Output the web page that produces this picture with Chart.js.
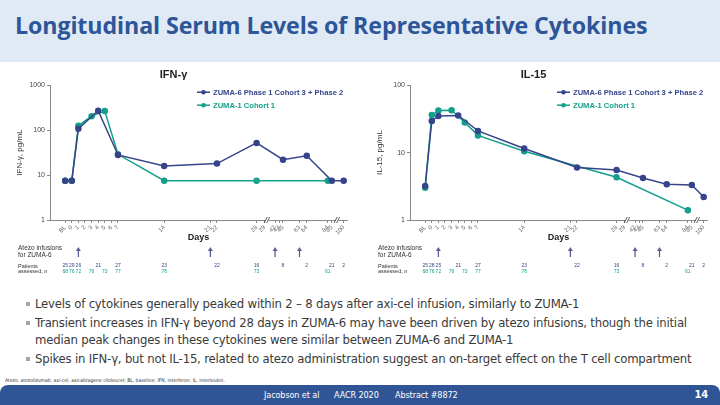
<!DOCTYPE html>
<html>
<head>
<meta charset="utf-8">
<script src="https://cdn.jsdelivr.net/npm/chart.js@4.4.1/dist/chart.umd.min.js"></script>
<style>
  html, body { margin: 0; padding: 0; }
  body { width: 720px; height: 405px; position: relative; overflow: hidden; background: #fff; font-family: "Liberation Sans", Arial, sans-serif; }
  .title-bar { position: absolute; left: 0; top: 0; width: 720px; height: 62px; background: #dfeaf5; }
  .title-bar h1 { margin: 0; position: absolute; left: 15px; top: 9px; font: 700 23.2px "Open Sans", sans-serif; color: #2e5597; letter-spacing: -0.1px; white-space: nowrap; }
  .panel { position: absolute; top: 62px; width: 360px; height: 228px; }
  #panelLeft { left: 0; }
  #panelRight { left: 360px; }
  .narrow { font-family: "DejaVu Sans", sans-serif; font-stretch: condensed; }
  .bullets { position: absolute; left: 0; top: 295px; margin: 0; padding: 0; list-style: none; font-size: 13px; color: #3a3a3a; line-height: 17px; letter-spacing: -0.2px; }
  .bullets li { position: relative; padding-left: 35px; margin-bottom: 2px; white-space: nowrap; }
  .bullets li::before { content: ""; position: absolute; left: 26px; top: 7px; width: 4px; height: 4px; background: #a6a6a6; }
  .foot-note { position: absolute; left: 5px; top: 377px; font-size: 5px; color: #333; white-space: nowrap; }
  .footer { position: absolute; left: 0; top: 385px; width: 720px; height: 20px; background: #2f5597; border-radius: 8px 8px 0 0; color: #fff; font-size: 9px; letter-spacing: -0.1px; }
  .footer span { position: absolute; top: 5px; white-space: nowrap; }
  .footer .page { right: 12px; top: 3px; font-weight: 700; font-size: 11px; }
</style>
</head>
<body>
<div class="title-bar"><h1>Longitudinal Serum Levels of Representative Cytokines</h1></div>

<div class="panel" id="panelLeft"><canvas id="ifnChart"></canvas></div>
<div class="panel" id="panelRight"><canvas id="il15Chart"></canvas></div>

<ul class="bullets narrow">
  <li>Levels of cytokines generally peaked within 2 – 8 days after axi-cel infusion, similarly to ZUMA-1</li>
  <li>Transient increases in IFN-γ beyond 28 days in ZUMA-6 may have been driven by atezo infusions, though the initial<br>median peak changes in these cytokines were similar between ZUMA-6 and ZUMA-1</li>
  <li>Spikes in IFN-γ, but not IL-15, related to atezo administration suggest an on-target effect on the T cell compartment</li>
</ul>
<div class="foot-note narrow">Atezo, atezolizumab; axi-cel, axicabtagene ciloleucel; BL, baseline; IFN, interferon; IL, interleukin.</div>
<div class="footer narrow">
  <span style="left:264px">Jacobson et al</span>
  <span style="left:334px">AACR 2020</span>
  <span style="left:395px">Abstract #8872</span>
  <span class="page">14</span>
</div>

<script>
// x axis is broken after day 28, so each tick has a label and a place on the axis
const tickLabels = ['BL', '0', '1', '2', '3', '4', '5', '6', '7', '14', '21', '22', '28', '29', '42', '43', '45', '63', '64', '84', '85', '100'];
const axisPos    = [-1, 0, 1, 2, 3, 4, 5, 6, 7, 14, 21, 22, 28, 29.2, 30.8, 31.4, 32, 34.5, 35.6, 38.8, 39.4, 41.2];
const axisBreaks = [29.6, 40.2];

const seriesNames = ['ZUMA-6 Phase 1 Cohort 3 + Phase 2', 'ZUMA-1 Cohort 1'];

// IFN-γ, pg/mL (median)
const ifnZuma6 = [7.5, 7.5, 108, null, null, 270, null, null, 28, 16, null, 18, 52, null, null, null, 22, null, 27, null, 7.5, 7.5];
const ifnZuma1 = [7.5, 7.5, 125, null, 205, null, 265, null, 29, 7.5, null, null, 7.5, null, null, null, null, null, null, 7.5, null, null];

// IL-15, pg/mL (median)
const il15Zuma6 = [3.2, 29.5, 35, null, null, 35.5, null, null, 21, 11.5, null, 6, 5.5, null, null, null, 4.2, null, 3.4, null, 3.3, 2.2];
const il15Zuma1 = [3.0, 36, 42, null, 42.5, null, 28, null, 18, 10.5, null, null, 4.3, null, null, null, null, null, null, 1.4, null, null];

// patients assessed, n
const nIfnZuma6  = [25, 29, 26, null, null, 21, null, null, 27, 23, null, 22, 16, null, null, null, 8, null, 2, null, 21, 2];
const nIfnZuma1  = [68, 76, 72, null, 76, null, 73, null, 77, 76, null, null, 73, null, null, null, null, null, null, 61, null, null];
const nIl15Zuma6 = [25, 28, 25, null, null, 21, null, null, 27, 23, null, 22, 16, null, null, null, 8, null, 2, null, 21, 2];
const nIl15Zuma1 = [68, 76, 72, null, 76, null, 73, null, 77, 76, null, null, 73, null, null, null, null, null, null, 61, null, null];

const atezoDays = ['1', '21', '42', '63'];

const ifnTicks = [1, 10, 100, 1000];
const il15Ticks = [1, 10, 100];

const BLUE = '#36448a';
const TEAL = '#13a08a';
const AXIS = '#8a8a8a';
const FONT = '"Liberation Sans", Arial';

function toPoints(values) {
    return tickLabels
        .map((_, i) => ({ x: axisPos[i], y: values[i] }))
        .filter(p => p.y !== null);
}

// legend, "Days", atezo arrows and n rows are drawn here
const panelExtras = {
    id: 'panelExtras',
    afterDraw(chart, args, opts) {
        const ctx = chart.ctx;
        const xs = chart.scales.x;
        const area = chart.chartArea;
        const px = label => xs.getPixelForValue(axisPos[tickLabels.indexOf(label)]);
        ctx.save();

        // axis break marks
        axisBreaks.forEach(b => {
            const x = xs.getPixelForValue(b);
            const y = area.bottom;
            ctx.fillStyle = '#fff';
            ctx.fillRect(x - 1.5, y - 1, 3, 2);
            ctx.strokeStyle = '#333';
            ctx.lineWidth = 0.8;
            ctx.beginPath();
            ctx.moveTo(x - 3, y + 3); ctx.lineTo(x, y - 3);
            ctx.moveTo(x - 0.5, y + 3); ctx.lineTo(x + 2.5, y - 3);
            ctx.stroke();
        });

        // legend inside the plot
        chart.data.datasets.forEach((ds, i) => {
            const x0 = area.left + 147;
            const y = area.top + 7 + i * 13;
            ctx.strokeStyle = ds.borderColor;
            ctx.lineWidth = 1.5;
            ctx.beginPath(); ctx.moveTo(x0, y); ctx.lineTo(x0 + 13, y); ctx.stroke();
            ctx.fillStyle = ds.borderColor;
            ctx.beginPath(); ctx.arc(x0 + 6.5, y, 2.3, 0, Math.PI * 2); ctx.fill();
            ctx.font = 'bold 7.6px ' + FONT;
            ctx.textAlign = 'left';
            ctx.textBaseline = 'middle';
            ctx.fillText(ds.label, x0 + 16, y + 0.5);
        });

        // y axis title
        ctx.save();
        ctx.translate(20, (area.top + area.bottom) / 2);
        ctx.rotate(-Math.PI / 2);
        ctx.fillStyle = '#333';
        ctx.font = '8px ' + FONT;
        ctx.textAlign = 'center';
        ctx.textBaseline = 'middle';
        ctx.fillText(opts.yTitle, 0, 0);
        ctx.restore();

        // x axis title
        ctx.fillStyle = '#222';
        ctx.font = 'bold 9px ' + FONT;
        ctx.textAlign = 'center';
        ctx.textBaseline = 'middle';
        ctx.fillText('Days', (area.left + area.right) / 2, area.bottom + 18);

        // atezo infusions
        ctx.fillStyle = '#333';
        ctx.font = '6.5px ' + FONT;
        ctx.textAlign = 'left';
        ctx.fillText('Atezo infusions', 18, area.bottom + 28);
        ctx.fillText('for ZUMA-6', 18, area.bottom + 35);
        atezoDays.forEach(d => {
            const x = px(d);
            const yTop = area.bottom + 27;
            ctx.strokeStyle = '#5b5e96';
            ctx.fillStyle = '#5b5e96';
            ctx.lineWidth = 1.3;
            ctx.beginPath(); ctx.moveTo(x, area.bottom + 37); ctx.lineTo(x, yTop + 3); ctx.stroke();
            ctx.beginPath(); ctx.moveTo(x, yTop); ctx.lineTo(x - 2.5, yTop + 4); ctx.lineTo(x + 2.5, yTop + 4); ctx.closePath(); ctx.fill();
        });

        // patients assessed
        ctx.fillStyle = '#333';
        ctx.font = '5.5px ' + FONT;
        ctx.fillText('Patients', 18, area.bottom + 46);
        ctx.fillText('assessed, n', 18, area.bottom + 51.5);
        ctx.textAlign = 'center';
        [[opts.nZuma6, BLUE, 46], [opts.nZuma1, TEAL, 51.5]].forEach(([row, color, dy]) => {
            ctx.fillStyle = color;
            ctx.font = '5px ' + FONT;
            row.forEach((n, i) => {
                if (n === null) return;
                ctx.fillText(String(n), xs.getPixelForValue(axisPos[i]), area.bottom + dy);
            });
        });

        ctx.restore();
    }
};

function makeChart(canvasId, title, yTitle, yMax, yTicks, zuma6, zuma1, nZuma6, nZuma1) {
    const ctx = document.getElementById(canvasId).getContext('2d');
    return new Chart(ctx, {
        type: 'line',
        data: {
            datasets: [
                { label: seriesNames[0], data: toPoints(zuma6), borderColor: BLUE, backgroundColor: BLUE, borderWidth: 1.5, pointRadius: 2.5, pointHoverRadius: 2.5, tension: 0 },
                { label: seriesNames[1], data: toPoints(zuma1), borderColor: TEAL, backgroundColor: TEAL, borderWidth: 1.5, pointRadius: 2.5, pointHoverRadius: 2.5, tension: 0 }
            ]
        },
        options: {
            responsive: true,
            maintainAspectRatio: false,
            animation: false,
            layout: { padding: { right: 13 } },
            plugins: {
                legend: { display: false },
                tooltip: { enabled: false },
                title: {
                    display: true,
                    text: title,
                    color: '#222',
                    font: { family: FONT, size: 11, weight: 'bold' },
                    padding: { top: 6, bottom: 4 }
                },
                panelExtras: { yTitle, nZuma6, nZuma1 }
            },
            scales: {
                x: {
                    type: 'linear',
                    min: -3.3,
                    max: 41.7,
                    afterFit: s => { s.height = 70; },
                    afterBuildTicks: s => { s.ticks = axisPos.map(v => ({ value: v })); },
                    ticks: {
                        autoSkip: false,
                        minRotation: 45,
                        maxRotation: 45,
                        padding: 1,
                        color: '#666',
                        font: { family: FONT, size: 6 },
                        callback: v => tickLabels[axisPos.indexOf(v)] ?? ''
                    },
                    grid: { display: true, drawOnChartArea: false, drawTicks: true, tickLength: 3, color: AXIS },
                    border: { display: true, color: AXIS }
                },
                y: {
                    type: 'logarithmic',
                    min: 1,
                    max: yMax,
                    afterFit: s => { s.width = 50; },
                    afterBuildTicks: s => { s.ticks = yTicks.map(v => ({ value: v })); },
                    ticks: {
                        color: '#444',
                        padding: 2,
                        font: { family: FONT, size: 7 },
                        callback: v => String(v)
                    },
                    grid: { display: true, drawOnChartArea: false, drawTicks: true, tickLength: 3, color: AXIS },
                    border: { display: true, color: AXIS }
                }
            }
        },
        plugins: [panelExtras]
    });
}

makeChart('ifnChart', 'IFN-γ', 'IFN-γ, pg/mL', 1000, ifnTicks, ifnZuma6, ifnZuma1, nIfnZuma6, nIfnZuma1);
makeChart('il15Chart', 'IL-15', 'IL-15, pg/mL', 100, il15Ticks, il15Zuma6, il15Zuma1, nIl15Zuma6, nIl15Zuma1);
</script>
</body>
</html>
